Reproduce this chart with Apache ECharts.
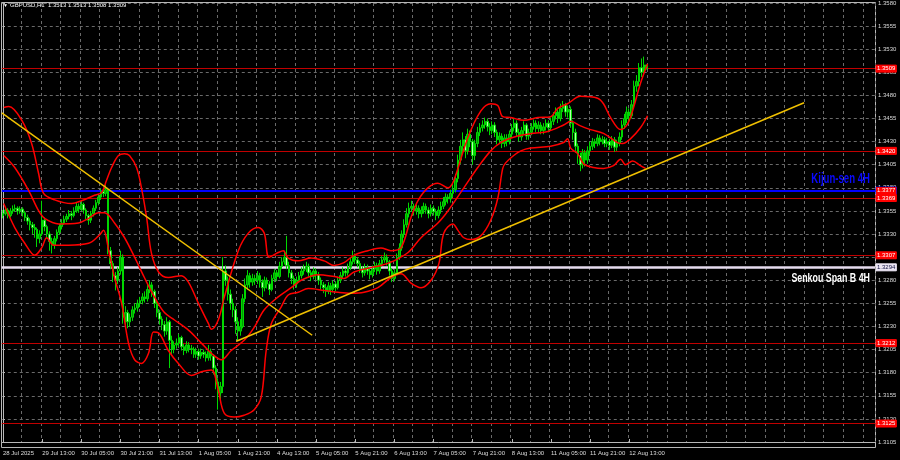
<!DOCTYPE html>
<html><head><meta charset="utf-8">
<script src="https://cdn.jsdelivr.net/npm/echarts@6/dist/echarts.min.js"></script>
<style>html,body{margin:0;padding:0;background:#000;}#c{width:900px;height:460px;}</style>
</head><body><div id="c"></div>
<script>
// Prices are stored in pips above 1.3000 (price = 1.3 + pips/10000)
const firstOpen = 350;
const closes = [352,356,350,355,357, 358,355,357,353, 348,344,340,337, 335,325,330,345, 338,330,322,318, 325,332,338,342, 346,349,352,350, 355,360,357,362, 356,350,345,352, 358,364,370,376, 374,378, 312,298,285,280,290, 305,240, 245,235,240,248, 250,255,258,262,260, 270,275,268, 255,245,238, 232,225,235,215,205,210, 212,218,208,204,210,206, 205,200,203,198,202,200,196,203, 198,185,170, 158,165, 290, 280,265,255,248, 235,225,230, 260,275,285,278,282, 280,285,278,272,280,276,270,282,288,284, 295,300,305,296, 288,282,276,280,285,290, 292,295,288,284,290,286, 280,275,272,268,274,270,276,272,280, 285,290,288,294, 300,306,302,298, 292,288,294,290,286,292,296,290, 298,302,305,300, 290,282,288, 305,315,330,340,352,358, 360,355,358,352,356,360, 356,352,358,354,350,356,360, 365,370,368,374,378, 390,410,425,432, 420,438,430,415,428,440, 445,448,452,446,442,448, 440,432,436,428,434,430, 438,445,450,440,435,442,448,436, 440,446,450,444,448,442,446,450,445, 452,458,462,455,466,470,462,465, 450,440,425, 415,405,418,410,420, 425,430,428,434,430,432,428, 430,426,432,424,428,435, 448,455,462,458, 470,490, 495,510,505, 513, 509];
const highs = [356,359,358,358,361, 362,360,360,359, 355,351,347,343, 341,337,334,366, 348,340,333,326, 328,335,341,346, 350,352,356,355, 359,364,363,366, 364,358,352,355, 361,367,373,379, 380,383, 380,316,301,289,294, 312,308, 252,248,244,252, 255,259,262,266,268, 276,280,278, 270,258,248, 241,236,240,237,220,214, 217,222,220,211,214,213, 210,208,207,206,206,205,203,210, 206,200,188, 174,170, 305, 296,284,270,260, 252,240,238, 265,282,291,288,287, 286,290,288,281,284,283,279,286,292,291, 300,305,312,328, 300,291,285,284,289,294, 297,300,298,291,294,293, 289,283,278,276,278,277,280,279,284, 289,294,293,298, 305,312,309,305, 301,295,298,297,293,296,300,299, 302,306,310,308, 302,293,292, 309,320,334,346,358,364, 366,363,362,361,360,364, 363,359,362,361,357,360,365, 370,374,373,378,383, 395,416,432,440, 436,444,442,433,432,446, 450,453,456,455,450,452, 451,443,440,439,438,438, 442,449,455,453,444,446,452,450, 444,450,454,453,452,451,450,454,453, 456,462,467,465,471,474,472,469, 468,453,444, 428,418,422,421,425, 430,434,433,438,437,436,435, 434,433,436,435,432,440, 453,460,468,466, 475,496, 502,515,520, 522, 513];
const lows = [347,350,347,348,352, 354,351,352,349, 344,340,334,330, 326,316,320,328, 333,325,312,309, 314,322,329,335, 340,343,346,345, 348,353,353,355, 352,346,340,342, 349,355,361,367, 370,371, 308,292,278,269,276, 286,233, 231,228,230,236, 244,246,251,254,256, 257,266,262, 250,240,232, 226,219,221,185,200,201, 206,208,204,199,201,202, 200,196,196,194,195,196,192,193, 193,178,162, 140,150, 158, 274,258,248,240, 222,215,220, 228,256,270,272,274, 275,276,272,262,268,271,264,268,278,279, 282,292,297,292, 283,276,270,272,277,282, 286,289,284,279,281,281, 275,270,266,262,265,264,267,268,270, 277,282,284,285, 291,297,298,294, 288,283,285,286,281,283,289,286, 287,295,299,296, 285,278,279, 286,302,312,326,337,348, 354,350,351,347,348,352, 352,347,349,350,345,347,352, 357,361,363,364,370, 375,386,406,418, 412,416,424,405,410,424, 436,441,444,441,437,438, 435,427,428,423,424,425, 427,434,441,435,430,431,438,432, 432,437,443,440,440,438,438,442,440, 442,448,454,450,452,462,457,456, 445,432,418, 406,398,401,403,406, 416,421,423,425,426,427,424, 424,421,423,419,420,425, 432,444,450,452, 455,466, 484,490,500, 503, 508];

// Bollinger bands: [bar index, pips]
const bbUpper = [[0.3,467],[2.4,468],[7.7,453],[11.7,428],[14.6,395],[16.6,374],[21.1,367],[28,363],[32.1,366],[37.4,372],[40.3,375],[42.3,388],[44.4,402],[47.2,415],[49.7,417],[51.7,415],[54.6,402],[56.6,380],[58.7,348],[60.7,309],[63.6,289],[67.6,283],[72.9,285],[75.8,278],[79.9,255],[84,233],[85.2,227],[88,237],[90.5,262],[96.2,312],[100.3,331],[104.4,337],[106.8,331],[108.8,305],[112.5,310],[114.6,312],[116.6,304],[120.7,301],[126,304],[131.3,301],[135.4,296],[139.4,299],[143.5,307],[149.2,312],[154.5,315],[158.6,312],[162.7,315],[166.8,348],[169.6,366],[173.7,380],[177.8,385],[181.9,380],[184.3,388],[190,434],[195.3,463],[199.4,471],[202.3,469],[204.3,457],[207.6,456],[212.9,453],[218.6,456],[223.9,457],[226.8,466],[230.8,471],[236.1,479],[243.1,477],[245.5,471],[248.4,456],[252.5,443],[255.3,449],[257.8,467],[260.6,493],[263.5,514]];
const bbMiddle = [[0.3,415],[4.8,402],[10.5,377],[14.6,355],[17,347],[22.8,341],[30.9,342],[35,347],[39.1,353],[41.5,353],[45.6,342],[49.7,326],[53.8,305],[57.8,283],[61.9,262],[66,245],[70.1,237],[75.8,226],[81.1,212],[85.2,201],[89.3,194],[93.3,204],[98.6,215],[102.7,229],[106.8,248],[112.5,262],[117.8,272],[121.9,280],[128.8,286],[135.4,284],[139.4,282],[143.5,289],[149.2,293],[154.5,296],[159.8,301],[165.6,310],[170.9,326],[177.8,342],[181.9,355],[188.4,380],[194.1,402],[199.4,420],[203.5,429],[210.4,436],[217,439],[222.7,441],[229.2,448],[232.1,452],[236.1,447],[240.2,443],[245.5,439],[251.2,429],[253.3,428],[256.5,433],[260.6,445],[263.5,458]];
const bbLower = [[0.3,363],[4.8,337],[8.9,320],[13,307],[15.8,315],[17.9,326],[20.7,318],[26.8,318],[35,320],[39.1,328],[41.1,334],[43.2,312],[45.6,283],[48.5,255],[51.3,212],[53.8,194],[56.6,190],[59.5,201],[61.5,224],[63.6,223],[67.6,204],[71.7,190],[77,177],[81.1,181],[85.2,183],[88,161],[90.5,136],[94.6,132],[98.6,134],[102.7,140],[105.6,154],[107.6,204],[109.7,233],[113.7,251],[116.6,264],[120.7,267],[124.8,271],[131.3,269],[137,267],[142.3,266],[147.6,267],[153.3,272],[158.6,283],[162.7,287],[166.8,277],[170.9,272],[175,280],[178.2,298],[180.2,331],[183.9,341],[186,334],[188.4,326],[191.3,324],[195.3,328],[199.4,345],[202.3,369],[204.3,401],[205.5,407],[208.8,415],[211.7,420],[215.7,423],[223.9,425],[229.2,429],[230.8,433],[232.1,423],[234.9,417],[237.4,406],[241.4,402],[245.5,401],[249.6,404],[252.5,411],[254.5,405],[257.4,409],[260.6,404],[262.7,401]];

// Trend lines: [bar index, pips]
const trendDown = [[-0.5,461],[126.4,220.5]];
const trendUp = [[95.4,214],[327.5,472]];

// Horizontal levels (pips)
const levelValues = [509, 420, 377, 369, 307, 294, 212, 125];
const levelKinds  = ['red','red','kijun','red','red','senkou','red','red'];

const tickLabels = ['28 Jul 2025','29 Jul 13:00','30 Jul 05:00','30 Jul 21:00','31 Jul 13:00','1 Aug 05:00','1 Aug 21:00','4 Aug 13:00','5 Aug 05:00','5 Aug 21:00','6 Aug 13:00','7 Aug 05:00','7 Aug 21:00','8 Aug 13:00','11 Aug 05:00','11 Aug 21:00','12 Aug 13:00'];
const titleText = 'GBPUSD,H1  1.3513 1.3513 1.3508 1.3509';
const kijunText = 'Kijun-sen 4H';
const senkouText = 'Senkou Span B 4H';

const N = 357;                 // bar slots visible (incl. empty space on the right)
const BASE = 105;              // axis value 0 = 1.3105
const ax = p => p - BASE;
const fmtPrice = p => ((p + 13000) / 10000).toFixed(4);

const cats = Array.from({length: N}, (_, i) => String(i));
const opens = closes.map((c, i) => i === 0 ? firstOpen : closes[i - 1]);
const candles = closes.map((c, i) => [ax(opens[i]), ax(c), ax(lows[i]), ax(highs[i])]);
const pts = arr => arr.map(d => [d[0], ax(d[1])]);

const FONT = 'Liberation Sans, Arial, sans-serif';
const BOLDFONT = 'Liberation Sans, Arial, sans-serif';
const TXT = '#dcdcdc';
const GRIDC = '#6a6a6a';
const FRAME = '#b8b8b8';

const levelStyle = {
  red:    {line: '#c00000', w: 1,   bg: '#ff0000', fg: '#ffffff', bc: '#ff0000'},
  kijun:  {line: '#0000ff', w: 2,   bg: '#ff0000', fg: '#ffffff', bc: '#0000ff'},
  senkou: {line: '#e6dcef', w: 2.5, bg: '#ece6f4', fg: '#101040', bc: '#ece6f4'}
};
const markLines = levelValues.map((v, k) => {
  const s = levelStyle[levelKinds[k]];
  return {
    yAxis: ax(v),
    lineStyle: {color: s.line, width: s.w, type: 'solid'},
    label: {show: true, position: 'end', distance: 1, formatter: fmtPrice(v),
      backgroundColor: s.bg, color: s.fg, borderColor: s.bc, borderWidth: 0.5,
      fontSize: 6, fontFamily: FONT, padding: [1, 1, 0, 1]}
  };
});

const chart = echarts.init(document.getElementById('c'));
chart.setOption({
  backgroundColor: '#000',
  animation: false,
  grid: {left: 1, right: 25, top: 3, bottom: 18, show: false},
  xAxis: [
    {type: 'category', data: cats, boundaryGap: true, offset: 5,
      axisLine: {show: true, lineStyle: {color: FRAME}},
      axisTick: {show: true, alignWithLabel: true, interval: i => i % 16 === 0 && i <= 256, length: 3, inside: true, lineStyle: {color: FRAME}},
      axisLabel: {show: true, interval: i => i % 16 === 0 && i <= 256,
        formatter: (v, i) => tickLabels[i / 16] || '', color: TXT, fontSize: 6, fontFamily: FONT, align: 'left', margin: 3},
      splitLine: {show: true, interval: i => i % 8 === 0 && i > 0, lineStyle: {color: GRIDC, type: [3, 3], width: 1}}},
    {type: 'value', min: -0.5, max: N - 0.5, show: false}
  ],
  yAxis: {type: 'value', position: 'right', min: 0, max: 475, interval: 25,
    axisLine: {show: true, lineStyle: {color: FRAME}},
    axisTick: {show: true, length: 2, lineStyle: {color: FRAME}},
    axisLabel: {show: true, color: TXT, fontSize: 6, fontFamily: FONT, margin: 3,
      formatter: v => ((v + 13105) / 10000).toFixed(4)},
    splitLine: {show: true, lineStyle: {color: GRIDC, type: [3, 3], width: 1}}},
  graphic: [
    {type: 'rect', silent: true, z: 0, shape: {x: 1.5, y: 2.5, width: 874, height: 445}, style: {fill: null, stroke: FRAME, lineWidth: 1}},
    {type: 'text', left: 3, top: 3, style: {text: '▼', fill: '#ffffff', fontSize: 5, fontFamily: FONT}},
    {type: 'text', left: 10, top: 2, style: {text: titleText, fill: '#ffffff', fontSize: 6, fontFamily: FONT}},
    {type: 'text', x: 870, y: 178.5, scaleX: 0.64, z: 10,
      style: {text: kijunText, fill: '#0a0aff', align: 'right', verticalAlign: 'middle', fontSize: 15, fontWeight: 'bold', fontFamily: BOLDFONT}},
    {type: 'text', x: 870, y: 278, scaleX: 0.68, z: 10,
      style: {text: senkouText, fill: '#ffffff', align: 'right', verticalAlign: 'middle', fontSize: 13, fontWeight: 'bold', fontFamily: BOLDFONT}}
  ],
  series: [
    {type: 'candlestick', xAxisIndex: 0, yAxisIndex: 0, data: candles, barWidth: 2, z: 3,
      itemStyle: {color: '#009a00', color0: '#b8ffb0', borderColor: '#00d800', borderColor0: '#00d800', borderWidth: 1},
      markLine: {silent: true, symbol: ['none', 'none'], z: 1, data: markLines}},
    {type: 'line', xAxisIndex: 1, data: pts(bbUpper), smooth: 0.35, symbol: 'none', z: 4, lineStyle: {color: '#ff0000', width: 1.5}},
    {type: 'line', xAxisIndex: 1, data: pts(bbMiddle), smooth: 0.35, symbol: 'none', z: 4, lineStyle: {color: '#ff0000', width: 1.5}},
    {type: 'line', xAxisIndex: 1, data: pts(bbLower), smooth: 0.35, symbol: 'none', z: 4, lineStyle: {color: '#ff0000', width: 1.5}},
    {type: 'line', xAxisIndex: 1, data: pts(trendDown), symbol: 'none', z: 5, lineStyle: {color: '#f0c000', width: 1.5}},
    {type: 'line', xAxisIndex: 1, data: pts(trendUp), symbol: 'none', z: 5, lineStyle: {color: '#f0c000', width: 1.5}}
  ]
});
</script></body></html>
